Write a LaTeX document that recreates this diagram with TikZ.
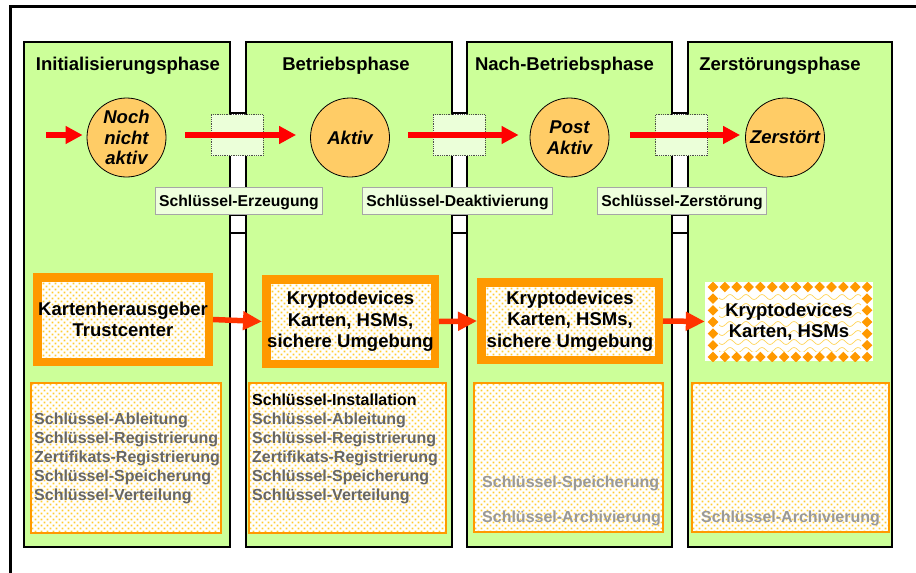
\documentclass[tikz,border=0pt]{standalone}
\usepackage{fontspec}
\setmainfont{Liberation Sans}
\usetikzlibrary{arrows.meta}
\definecolor{colgreen}{HTML}{CCFF99}
\definecolor{circorange}{HTML}{FFCC66}
\definecolor{boxorange}{HTML}{FF9900}
\definecolor{lightgreen}{HTML}{EEFFDD}
\definecolor{transgreen}{HTML}{EBFFD9}
\definecolor{dotyellow}{HTML}{FFCC33}
\definecolor{arrowred}{HTML}{FF0000}
\definecolor{arroworange}{HTML}{FF3300}
\definecolor{txtgray}{HTML}{666666}
\definecolor{txtlight}{HTML}{999999}
% dotted yellow area: #1,#2 = top-left, #3,#4 = bottom-right, #5 columns, #6 rows
\newcommand\mydotarea[6]{%
  \begin{scope}
    \clip (#1,#2) rectangle (#3,#4);
    \fill[white] (#1,#2) rectangle (#3,#4);
    \foreach \i in {0,...,#5}{%
      \fill[dotyellow] \foreach \j in {0,...,#6}{
        ({#1+0.6+6*\i},{#2+0.6+6*\j}) rectangle ++(1.8,1.8)
        ({#1+3.6+6*\i},{#2+3.6+6*\j}) rectangle ++(1.8,1.8)};
    }
  \end{scope}}
\begin{document}
\begin{tikzpicture}[x=1pt,y=-1pt,
  colbox/.style={draw=black, line width=2.5pt, fill=colgreen},
  gapline/.style={draw=black, line width=2.5pt},
  transbox/.style={draw=black!70, densely dotted, line width=0.8pt, fill=transgreen, minimum width=52pt, minimum height=41pt, inner sep=0pt},
  labelbox/.style={draw=black!35, line width=1pt, fill=lightgreen, minimum height=27.5pt, inner xsep=4pt, inner ysep=0pt, text height=11.5pt, text depth=0pt, font=\fontsize{15.7}{18}\selectfont\bfseries},
  phasecirc/.style={circle, draw=black, line width=0.8pt, fill=circorange, minimum size=79pt, inner sep=0pt, align=center, font=\fontsize{18.5}{20.5}\selectfont\bfseries\itshape},
  header/.style={anchor=base, inner sep=0pt, font=\fontsize{18.5}{22}\selectfont\bfseries},
  redarrow/.style={draw=arrowred, line width=6.5pt, -{Triangle[length=17pt,width=17pt]}},
  orangearrow/.style={draw=arroworange, line width=5.5pt, -{Triangle[length=19pt,width=18pt]}},
  devbox/.style={draw=boxorange, line width=8.5pt, inner sep=0pt, align=center, font=\fontsize{18.5}{21.5}\selectfont\bfseries},
  botbox/.style={draw=boxorange, line width=1.2pt},
  btext/.style={anchor=base west, inner sep=0pt, text=txtgray, font=\fontsize{16}{19}\selectfont\bfseries},
  wavy/.style={draw=dotyellow!80, line width=0.7pt}
]
\useasboundingbox (0,0) rectangle (916,573);
% outer frame (only top and left visible)
\draw[line width=3pt] (10,573) -- (10,6.5) -- (916,6.5);

% columns
\draw[colbox] (24,42) rectangle (230,547);
\draw[colbox] (246,42) rectangle (452,547);
\draw[colbox] (467,42) rectangle (672,547);
\draw[colbox] (688,42) rectangle (892,547);

% gap cross lines
\foreach \a/\b in {230/246, 452/467, 672/688}{
  \foreach \yy in {113,155,188,215,233}{
    \draw[gapline] (\a,\yy) -- (\b,\yy);
  }
}

% phase headers
\node[header] (h1) at (128,70) {Initialisierungsphase};
\node[header] (h2) at (346,70) {Betriebsphase};
\node[header] (h3) at (564.5,70) {Nach-Betriebsphase};
\node[header] (h4) at (780,70.5) {Zerstörungsphase};

% transition boxes
\node[transbox] (t1) at (237,135) {};
\node[transbox] (t2) at (459,135) {};
\node[transbox] (t3) at (681.5,135) {};

% labels
\node[labelbox] (l1) at (239,201) {Schlüssel-Erzeugung};
\node[labelbox] (l2) at (457.5,201) {Schlüssel-Deaktivierung};
\node[labelbox] (l3) at (682,201) {Schlüssel-Zerstörung};

% circles
\node[phasecirc] (c1) at (126.5,137.5) {Noch\\nicht\\aktiv};
\node[phasecirc] (c2) at (350,137.5) {Aktiv};
\node[phasecirc] (c3) at (569.5,137.5) {Post\\Aktiv};
\node[phasecirc] (c4) at (785,137.5) {Zerstört};

% top arrows
\coordinate (s0) at (46,135);
\draw[redarrow] (s0) -- ([xshift=-4pt,yshift=2.5pt]c1.west);
\draw[redarrow] ([xshift=19pt,yshift=2.5pt]c1.east) -- ([xshift=-14pt,yshift=2.5pt]c2.west);
\draw[redarrow] ([xshift=18pt,yshift=2.5pt]c2.east) -- ([xshift=-11pt,yshift=2.5pt]c3.west);
\draw[redarrow] ([xshift=21pt,yshift=2.5pt]c3.east) -- ([xshift=-5pt,yshift=2.5pt]c4.west);

% dotted backgrounds of device boxes
\mydotarea{36}{276}{210}{363}{29}{15}
\mydotarea{265}{278}{436}{365}{29}{15}
\mydotarea{480}{281}{660}{361}{30}{14}

% device boxes
\node[devbox, minimum width=171.5pt, minimum height=84.5pt] (m1) at (123,319.5) {Kartenherausgeber\\Trustcenter};
\node[devbox, minimum width=168.5pt, minimum height=84.5pt] (m2) at (350.5,321.5) {Kryptodevices\\Karten, HSMs,\\sichere Umgebung};
\node[devbox, minimum width=177.5pt, minimum height=77.5pt] (m3) at (570,321) {Kryptodevices\\Karten, HSMs,\\sichere Umgebung};

% destroyed device box with diamond pattern
\begin{scope}
  \clip (705,282) rectangle (873,361);
  \fill[white] (705,282) rectangle (873,361);
  \foreach \i in {0,...,13}{
    \foreach \j in {0,...,6}{
      \fill[boxorange, shift={({713+11.85*\i},{287+11.67*\j})}] (-5.3,0) -- (0,-5.3) -- (5.3,0) -- (0,5.3) -- cycle;
    }
  }
  \fill[white] (719,293) rectangle (861,351);
  \begin{scope}
    \clip (719,293) rectangle (861,351);
    \foreach \yy in {297,306,315,324,333,342,350}{
      \draw[wavy] plot[domain=719:861, samples=90, smooth] (\x, {\yy+2.5*sin((\x-718)*22.5)});
    }
  \end{scope}
\end{scope}
\node[inner sep=0pt, minimum width=168pt, minimum height=79pt, align=center, font=\fontsize{18.5}{21.5}\selectfont\bfseries] (m4) at (789,321.5) {Kryptodevices\\Karten, HSMs};

% middle arrows
\draw[orangearrow] (m1.east) -- (m2.west);
\draw[orangearrow] (m2.east) -- (m3.west);
\draw[orangearrow] (m3.east) -- (m4.west);

% bottom boxes
\mydotarea{31}{383}{221}{533}{32}{25}
\mydotarea{249}{383}{446}{533}{33}{25}
\mydotarea{474}{383}{663}{532}{32}{25}
\mydotarea{692}{383}{889}{532}{33}{25}
\draw[botbox] (31,383) rectangle (221,533);
\draw[botbox] (249,383) rectangle (446,533);
\draw[botbox] (474,383) rectangle (663,532);
\draw[botbox] (692,383) rectangle (889,532);

% bottom texts
\node[btext] (a1) at (34,424) {Schlüssel-Ableitung};
\node[btext] (a2) at (34,443) {Schlüssel-Registrierung};
\node[btext] (a3) at (34,462) {Zertifikats-Registrierung};
\node[btext] (a4) at (34,481) {Schlüssel-Speicherung};
\node[btext] (a5) at (34,500) {Schlüssel-Verteilung};

\node[btext, text=black] (b0) at (252,405) {Schlüssel-Installation};
\node[btext] (b1) at (252,424) {Schlüssel-Ableitung};
\node[btext] (b2) at (252,443) {Schlüssel-Registrierung};
\node[btext] (b3) at (252,462) {Zertifikats-Registrierung};
\node[btext] (b4) at (252,481) {Schlüssel-Speicherung};
\node[btext] (b5) at (252,500) {Schlüssel-Verteilung};

\node[btext, text=txtlight] (d1) at (482,487) {Schlüssel-Speicherung};
\node[btext, text=txtlight] (d2) at (482,522) {Schlüssel-Archivierung};

\node[btext, text=txtlight] (e1) at (701,522) {Schlüssel-Archivierung};
\end{tikzpicture}
\end{document}
